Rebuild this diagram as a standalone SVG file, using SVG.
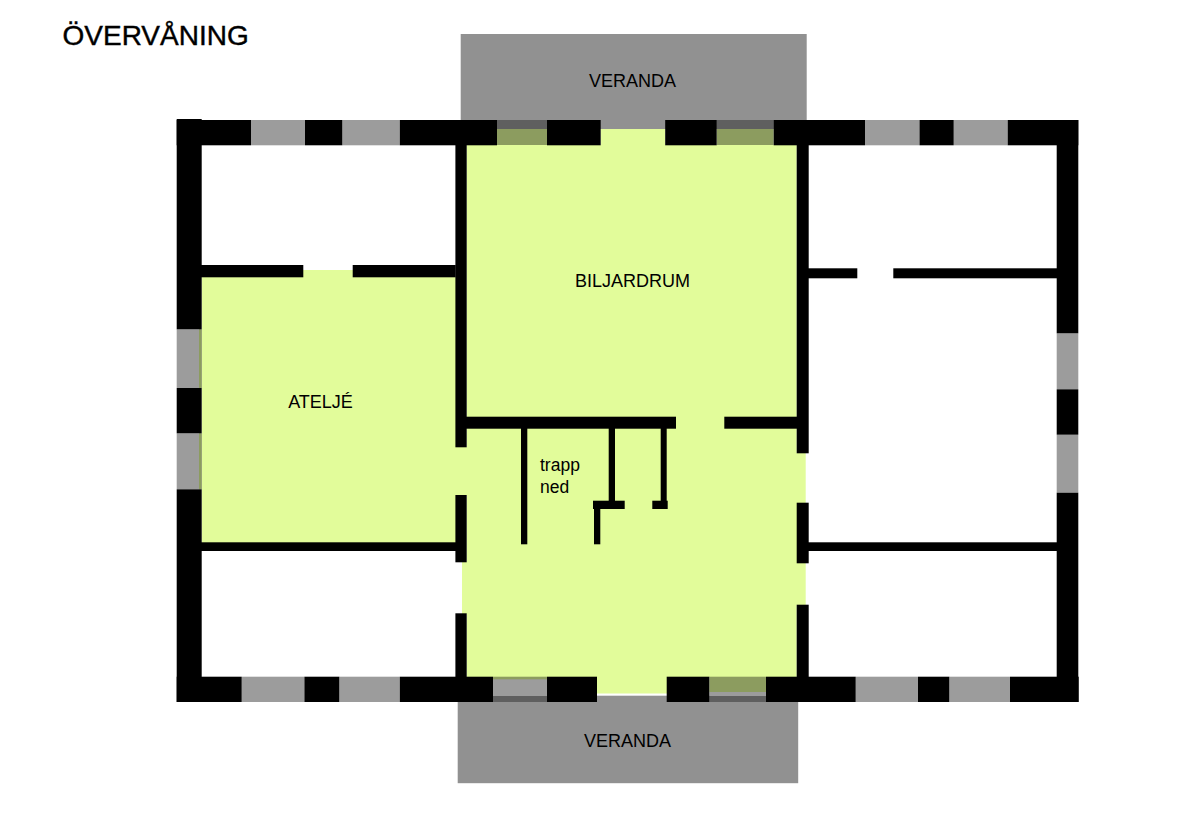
<svg xmlns="http://www.w3.org/2000/svg" width="1200" height="813" viewBox="0 0 1200 813">
<style>
.wall{fill:#000}
.win{fill:#9c9c9c}
.ver{fill:#919191}
.dark{fill:#5f5f5f}
.olive{fill:#8c9c5f}
.room{fill:#e2fc9a}
text{font-family:"Liberation Sans",Arial,sans-serif;fill:#000}
.lbl{font-size:18px}
</style>
<rect width="1200" height="813" fill="#fff"/>
<text id="title" x="62.5" y="45" font-size="28" stroke="#000" stroke-width="0.4">ÖVERVÅNING</text>
<g id="veranda-north">
<rect class="ver" x="460.7" y="34" width="346" height="95"/>
<text class="lbl" x="632.5" y="87" text-anchor="middle">VERANDA</text>
</g>
<g id="veranda-south">
<rect class="ver" x="457.7" y="695.7" width="340.5" height="87.5"/>
<text class="lbl" x="627.5" y="747" text-anchor="middle">VERANDA</text>
</g>
<g id="atelje">
<rect class="room" x="201.7" y="277" width="256" height="266"/>
<rect class="room" x="303" y="270" width="50" height="8"/>
<text class="lbl" x="320.5" y="407.5" text-anchor="middle">ATELJÉ</text>
</g>
<g id="biljardrum">
<rect class="room" x="466.7" y="145" width="330" height="272"/>
<rect class="room" x="600.7" y="129" width="64.5" height="17"/>
<text class="lbl" x="632.5" y="287" text-anchor="middle">BILJARDRUM</text>
</g>
<g id="hall">
<rect class="room" x="466.7" y="416" width="330" height="261"/>
<rect class="room" x="597" y="676" width="70" height="17.5"/>
<rect class="room" x="796" y="453" width="9.7" height="152"/>
<rect class="room" x="462" y="562" width="5" height="52"/>
<rect class="room" x="455" y="447" width="12" height="48"/>
<text font-size="17.5" x="540" y="471">trapp</text>
<text font-size="17.5" x="540" y="492.5">ned</text>
</g>
<g id="windows">
<rect class="win" x="251" y="120" width="54" height="25.3"/>
<rect class="win" x="342.3" y="120" width="57.5" height="25.3"/>
<rect class="win" x="865" y="120" width="54.5" height="25.3"/>
<rect class="win" x="953.7" y="120" width="54" height="25.3"/>
<rect class="win" x="241.7" y="676.7" width="62.7" height="25.3"/>
<rect class="win" x="339.3" y="676.7" width="60.5" height="25.3"/>
<rect class="win" x="855.7" y="676.7" width="62.3" height="25.3"/>
<rect class="win" x="949.3" y="676.7" width="60.7" height="25.3"/>
<rect class="win" x="176.7" y="329.3" width="25" height="58.7"/>
<rect class="win" x="176.7" y="433.3" width="25" height="56"/>
<rect class="olive" x="199" y="329.3" width="2.7" height="58.7"/>
<rect class="olive" x="199" y="433.3" width="2.7" height="56"/>
<rect class="win" x="1056.7" y="333.3" width="21.6" height="56"/>
<rect class="win" x="1056.7" y="434.7" width="21.6" height="58"/>
<rect class="dark" x="497" y="120" width="50" height="9"/>
<rect class="olive" x="497" y="129" width="50" height="16"/>
<rect class="dark" x="716.7" y="120" width="57" height="9"/>
<rect class="olive" x="716.7" y="129" width="57" height="16"/>
<rect class="win" x="493" y="679" width="54" height="17"/>
<rect class="olive" x="493" y="676.7" width="54" height="2.6"/>
<rect class="dark" x="493" y="696" width="54" height="6"/>
<rect class="olive" x="709.3" y="676.7" width="56.7" height="15.3"/>
<rect class="win" x="709.3" y="692" width="56.7" height="4"/>
<rect class="dark" x="709.3" y="696" width="56.7" height="6"/>
</g>
<g id="walls" class="wall">
<rect x="176.7" y="119" width="25" height="210.3"/>
<rect x="176.7" y="388" width="25" height="45.3"/>
<rect x="176.7" y="489.3" width="25" height="212.7"/>
<rect x="1056.7" y="120" width="21.6" height="213.3"/>
<rect x="1056.7" y="389.3" width="21.6" height="45.4"/>
<rect x="1056.7" y="492.7" width="21.6" height="209.3"/>
<rect x="176.7" y="120" width="74.3" height="25.3"/>
<rect x="305" y="120" width="37.3" height="25.3"/>
<rect x="399.8" y="120" width="97.2" height="25.3"/>
<rect x="547" y="120" width="53.7" height="25.3"/>
<rect x="665.2" y="120" width="51.5" height="25.3"/>
<rect x="773.7" y="120" width="91.3" height="25.3"/>
<rect x="919.5" y="120" width="34.2" height="25.3"/>
<rect x="1007.7" y="120" width="70.6" height="25.3"/>
<rect x="176.7" y="676.7" width="65" height="25.3"/>
<rect x="304.4" y="676.7" width="34.9" height="25.3"/>
<rect x="399.8" y="676.7" width="93.2" height="25.3"/>
<rect x="547" y="676.7" width="50" height="25.3"/>
<rect x="666.7" y="676.7" width="42.6" height="25.3"/>
<rect x="766" y="676.7" width="89.7" height="25.3"/>
<rect x="918" y="676.7" width="31.3" height="25.3"/>
<rect x="1010" y="676.7" width="68.7" height="25.3"/>
<rect x="455.4" y="145" width="11.3" height="302.3"/>
<rect x="455.4" y="495" width="11.3" height="67.3"/>
<rect x="455.4" y="613.3" width="11.3" height="64"/>
<rect x="796.7" y="145" width="12" height="308.3"/>
<rect x="796.7" y="502.7" width="12" height="60.6"/>
<rect x="796.7" y="604.7" width="12" height="72.5"/>
<rect x="201" y="265" width="102.3" height="12.3"/>
<rect x="352.7" y="265" width="103" height="12.3"/>
<rect x="201" y="542.3" width="255" height="8.7"/>
<rect x="808" y="268.3" width="49.3" height="10"/>
<rect x="893.3" y="268.3" width="164" height="10"/>
<rect x="808" y="542.3" width="249" height="8.7"/>
<rect x="466" y="416.7" width="210" height="12"/>
<rect x="724.3" y="416.7" width="73" height="12"/>
<rect x="521" y="428" width="6.3" height="116.3"/>
<rect x="608.7" y="428" width="6.3" height="73"/>
<rect x="660.7" y="428" width="6" height="73"/>
<rect x="593" y="500.7" width="31.7" height="8.3"/>
<rect x="652.3" y="500.7" width="15.4" height="8.3"/>
<rect x="594" y="508" width="6.3" height="36.3"/>
</g>
</svg>
